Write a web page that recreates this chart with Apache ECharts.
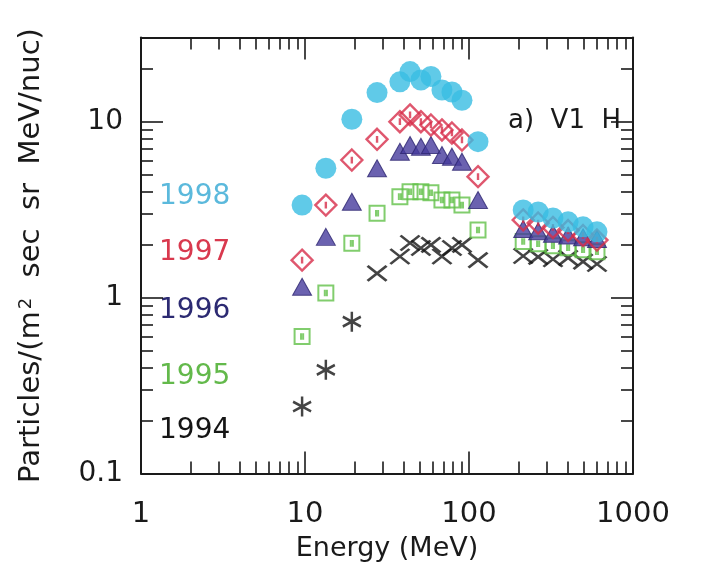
<!DOCTYPE html>
<html>
<head>
<meta charset="utf-8">
<script src="https://cdn.jsdelivr.net/npm/echarts@6/dist/echarts.min.js"></script>
<style>
  html, body { margin: 0; padding: 0; background: #fff; }
  #chart { width: 711px; height: 588px; }
</style>
</head>
<body>
<div id="chart"></div>
<script>
// Energy bins (MeV): low-energy telescope group, then high-energy group
const energies = [9.6, 13.4, 19.3, 27.5, 37.9, 43.7, 50.9, 58.6, 68.4, 78.7, 90.6, 113.5,
                  214, 264, 325, 402, 496, 603];

// Yearly proton spectra, particles/(m^2 sec sr MeV/nuc)
const flux1998 = [3.35, 5.42, 10.3, 14.6, 16.8, 19.2, 17.2, 18.0, 15.1, 14.7, 13.2, 7.68,
                  3.14, 3.06, 2.83, 2.69, 2.52, 2.36];
const flux1997 = [1.63, 3.35, 6.04, 7.92, 9.97, 10.9, 9.97, 9.55, 8.95, 8.6, 7.85, 4.86,
                  2.76, 2.65, 2.50, 2.40, 2.25, 2.12];
const flux1996 = [1.15, 2.21, 3.50, 5.42, 6.73, 7.35, 7.19, 7.35, 6.45, 6.31, 5.91, 3.58,
                  2.45, 2.38, 2.30, 2.25, 2.20, 2.15];
const flux1995 = [0.60, 1.06, 2.03, 3.01, 3.74, 3.99, 3.99, 3.94, 3.58, 3.58, 3.35, 2.42,
                  2.08, 2.02, 1.97, 1.92, 1.87, 1.82];
const flux1994 = [0.24, 0.388, 0.729, 1.37, 1.71, 2.04, 1.91, 1.99, 1.71, 1.91, 1.99, 1.63,
                  1.72, 1.70, 1.65, 1.68, 1.60, 1.55];

const years = ['1998', '1997', '1996', '1995', '1994'];

// Axis ticks and labels
const xMajor = [10, 100];
const xMinor = [2, 3, 4, 5, 6, 7, 8, 9, 20, 30, 40, 50, 60, 70, 80, 90, 200, 300, 400, 500, 600, 700, 800, 900];
const xLabels = [1, 10, 100, 1000];
const yMajor = [1, 10];
const yMinor = [0.2, 0.3, 0.4, 0.5, 0.6, 0.7, 0.8, 0.9, 2, 3, 4, 5, 6, 7, 8, 9, 20];
const yLabels = [0.1, 1, 10];

const FONT = 'DejaVu Sans';
const INK = '#1a1a1a';

const yearColors = {
  '1998': { mark: '#38bde2', text: '#5bb9dc' },
  '1997': { mark: '#d72d4a', text: '#d9394e' },
  '1996': { mark: '#463b9c', text: '#2c2a72' },
  '1995': { mark: '#62c048', text: '#63b94b' },
  '1994': { mark: '#151515', text: '#151515' }
};

// Open symbols with a small inner error bar
const DIAMOND = 'path://M5,0 L10,5 L5,10 L0,5 Z M5,3.4 L5,6.6';
const SQUARE = 'path://M0,0 L10,0 L10,10 L0,10 Z M4.3,2.8 L4.3,7.2 M5.7,2.8 L5.7,7.2';
const ASTER = 'path://M5,0 L5,10 M0.8,2.6 L9.2,7.4 M0.8,7.4 L9.2,2.6';
const CROSS = 'path://M0,0 L10,8 M0,8 L10,0';

function pairs(vals) {
  return energies.map((e, i) => [e, vals[i]]);
}

function frameAxis(dim, pos, ticks, len, showLine, labels) {
  const ax = {
    type: 'log', logBase: 10, position: pos,
    min: dim === 'x' ? 1 : 0.1,
    max: dim === 'x' ? 1000 : 30,
    axisLine: { show: showLine, onZero: false, lineStyle: { color: INK, width: 2 } },
    axisTick: { show: true, inside: true, length: len, customValues: ticks,
                lineStyle: { color: INK, width: 1.6 } },
    axisLabel: { show: false },
    splitLine: { show: false },
    minorTick: { show: false }
  };
  if (labels) {
    ax.axisLabel = {
      show: true, customValues: labels, color: INK, fontFamily: FONT,
      fontSize: dim === 'x' ? 29 : 28,
      margin: dim === 'x' ? 26 : 18,
      formatter: v => String(+v.toPrecision(3))
    };
  }
  return ax;
}

const xAxes = [
  frameAxis('x', 'bottom', xMajor, 22, true, xLabels),
  frameAxis('x', 'bottom', xMinor, 12, false),
  frameAxis('x', 'top', xMajor, 22, true),
  frameAxis('x', 'top', xMinor, 12, false)
];
xAxes[0].name = 'Energy (MeV)';
xAxes[0].nameLocation = 'middle';
xAxes[0].nameGap = 62;
xAxes[0].nameTextStyle = { fontFamily: FONT, fontSize: 27, color: INK };

const yAxes = [
  frameAxis('y', 'left', yMajor, 22, true, yLabels),
  frameAxis('y', 'left', yMinor, 12, false),
  frameAxis('y', 'right', yMajor, 22, true),
  frameAxis('y', 'right', yMinor, 12, false)
];
yAxes[0].name = '{t|Particles/(m}{s|2}{t|  sec  sr  MeV/nuc)}';
yAxes[0].nameLocation = 'middle';
yAxes[0].nameGap = 95;
yAxes[0].nameTextStyle = {
  color: INK,
  rich: {
    t: { fontFamily: FONT, fontSize: 29, color: INK },
    s: { fontFamily: FONT, fontSize: 18, color: INK, verticalAlign: 'top', padding: [0, 2, 0, 2] }
  }
};

function scatter(year, vals, symbol, size, style, z) {
  return {
    name: year, type: 'scatter', xAxisIndex: 0, yAxisIndex: 0,
    data: pairs(vals), symbol: symbol, symbolSize: size,
    itemStyle: style, z: z, emphasis: { disabled: true }
  };
}

const series = [
  scatter('1994', flux1994, (v, p) => (p.dataIndex < 3 ? ASTER : CROSS),
          (v, p) => (p.dataIndex < 3 ? [18, 20] : [19, 15]),
          { color: 'rgba(0,0,0,0)', borderColor: yearColors['1994'].mark, borderWidth: 2.6 }, 2),
  scatter('1995', flux1995, SQUARE, 15,
          { color: 'rgba(255,255,255,0)', borderColor: yearColors['1995'].mark, borderWidth: 2 }, 3),
  scatter('1996', flux1996, 'triangle', [19, 17],
          { color: yearColors['1996'].mark, borderColor: '#2d2570', borderWidth: 1 }, 4),
  scatter('1997', flux1997, DIAMOND, 21,
          { color: 'rgba(255,255,255,0)', borderColor: yearColors['1997'].mark, borderWidth: 2.4 }, 5),
  scatter('1998', flux1998, 'circle', 21,
          { color: yearColors['1998'].mark }, 6)
];

// Year key on the left of the plot, in the marks' colours
const yearKeyY = [199, 255, 313, 379, 433];
const graphics = years.map((y, i) => ({
  type: 'text', left: 159, top: yearKeyY[i] - 16,
  style: { text: y, fill: yearColors[y].text, font: '28px "DejaVu Sans"' },
  silent: true
}));
graphics.push({
  type: 'text', left: 508, top: 108,
  style: { text: 'a)  V1  H', fill: INK, font: '26px "DejaVu Sans"' },
  silent: true
});

const chart = echarts.init(document.getElementById('chart'), null, { renderer: 'canvas' });
chart.setOption({
  animation: false,
  backgroundColor: '#fff',
  grid: { left: 141, right: 78, top: 37.5, bottom: 114.5, containLabel: false },
  xAxis: xAxes,
  yAxis: yAxes,
  series: series,
  graphic: graphics
});
</script>
</body>
</html>
